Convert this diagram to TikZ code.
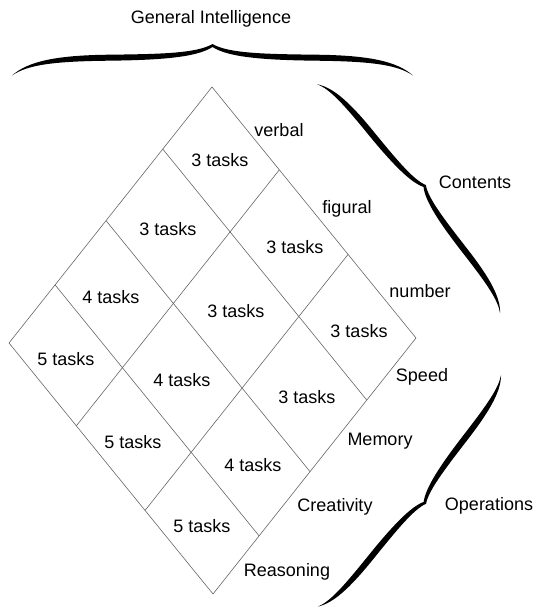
\documentclass[tikz,border=0pt]{standalone}
\usepackage{fontspec}
\setmainfont{Liberation Sans}
\usetikzlibrary{calc}
\newcommand{\CalBrace}[5]{% x y angle length height
  \pgfmathsetmacro{\bL}{#4}\pgfmathsetmacro{\bh}{#5}%
  \fill[bracefill, shift={(#1,#2)}, rotate=#3]
    (0,0) .. controls ({0.04*\bL},{-0.45*\bh}) and ({0.11*\bL},{-0.64*\bh}) .. ({0.24*\bL},{-0.66*\bh})
    .. controls ({0.37*\bL},{-0.68*\bh}) and ({0.46*\bL},{-0.70*\bh}) .. ({0.5*\bL},{-\bh})
    .. controls ({0.54*\bL},{-0.70*\bh}) and ({0.63*\bL},{-0.68*\bh}) .. ({0.76*\bL},{-0.66*\bh})
    .. controls ({0.89*\bL},{-0.64*\bh}) and ({0.96*\bL},{-0.45*\bh}) .. (\bL,0)
    .. controls ({0.96*\bL},{-0.45*\bh+3}) and ({0.89*\bL},{-0.64*\bh+6}) .. ({0.76*\bL},{-0.66*\bh+6})
    .. controls ({0.63*\bL},{-0.68*\bh+6}) and ({0.54*\bL},{-0.70*\bh+4}) .. ({0.5*\bL},{-\bh+3})
    .. controls ({0.46*\bL},{-0.70*\bh+4}) and ({0.37*\bL},{-0.68*\bh+6}) .. ({0.24*\bL},{-0.66*\bh+6})
    .. controls ({0.11*\bL},{-0.64*\bh+6}) and ({0.04*\bL},{-0.45*\bh+3}) .. (0,0) -- cycle;
}
\begin{document}
\begin{tikzpicture}[x=1pt,y=-1pt,
  gridline/.style={draw=black!60, line width=0.6pt},
  bracefill/.style={fill=black},
  lbl/.style={inner sep=0pt, font=\fontsize{18}{21}\selectfont},
  cell/.style={lbl}]
\useasboundingbox (0,0) rectangle (534,607);
% corners of the rhombus
\coordinate (T) at (212,87);
\coordinate (R) at (416,338);
\coordinate (L) at (9,343);
\coordinate (B) at (213,594);
% divisions
\coordinate (u1) at ($(T)!0.33!(R)$);
\coordinate (u2) at ($(T)!0.667!(R)$);
\coordinate (w1) at ($(L)!0.33!(B)$);
\coordinate (w2) at ($(L)!0.667!(B)$);
\coordinate (v1) at ($(T)!0.2425!(L)$);
\coordinate (v2) at ($(T)!0.522!(L)$);
\coordinate (v3) at ($(T)!0.773!(L)$);
\coordinate (z1) at ($(R)!0.2425!(B)$);
\coordinate (z2) at ($(R)!0.522!(B)$);
\coordinate (z3) at ($(R)!0.773!(B)$);
\draw[gridline] (T) -- (R) -- (B) -- (L) -- cycle;
\draw[gridline] (u1) -- (w1);
\draw[gridline] (u2) -- (w2);
\draw[gridline] (v1) -- (z1);
\draw[gridline] (v2) -- (z2);
\draw[gridline] (v3) -- (z3);
% cell texts
\node[cell] (c00) at (220,160) {3 tasks};
\node[cell] (c10) at (295,247) {3 tasks};
\node[cell] (c20) at (359,331) {3 tasks};
\node[cell] (c01) at (168,229) {3 tasks};
\node[cell] (c11) at (236,311) {3 tasks};
\node[cell] (c21) at (307,397) {3 tasks};
\node[cell] (c02) at (111,297) {4 tasks};
\node[cell] (c12) at (182,380) {4 tasks};
\node[cell] (c22) at (253,465) {4 tasks};
\node[cell] (c03) at (66,359) {5 tasks};
\node[cell] (c13) at (133,442) {5 tasks};
\node[cell] (c23) at (202,526) {5 tasks};
% edge labels
\node[lbl] (verbal) at (279,130) {verbal};
\node[lbl] (figural) at (347,209) {figural};
\node[lbl] (number) at (420,291) {number};
\node[lbl] (speed) at (422,377) {Speed};
\node[lbl] (memory) at (380,441) {Memory};
\node[lbl] (creat) at (335,507) {Creativity};
\node[lbl] (reas) at (287,572) {Reasoning};
\node[lbl] (contents) at (475,182) {Contents};
\node[lbl] (operations) at (489,506) {Operations};
\node[lbl] (gi) at (211,19) {General Intelligence};
% braces
\CalBrace{12}{75.5}{0}{401}{31.5}
\CalBrace{317.3}{84.3}{-51.4}{293}{22}
\CalBrace{501}{375}{-128.3}{295}{21}
\end{tikzpicture}
\end{document}
